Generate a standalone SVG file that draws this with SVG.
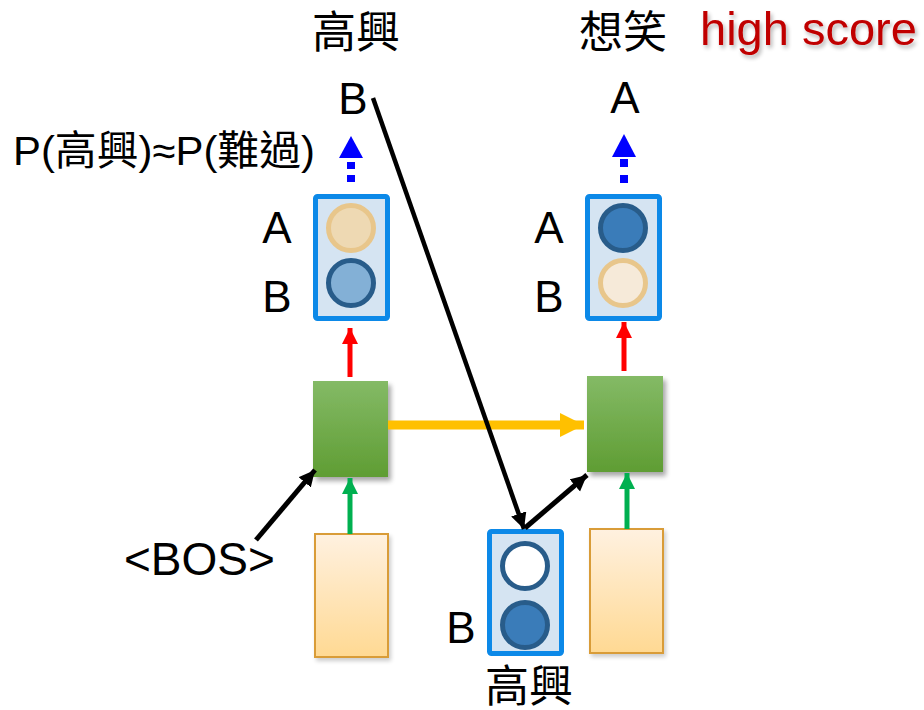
<svg xmlns="http://www.w3.org/2000/svg" width="924" height="710" viewBox="0 0 924 710">
<defs>
<style>
.t{font-family:"Liberation Sans","Noto Sans CJK TC",sans-serif;fill:#000;font-size:44px}
.ob{fill:#d5e4f2;stroke:#0c89e8;stroke-width:5}
.gb{fill:url(#gg);filter:url(#sh)}
.yb{fill:url(#yg);stroke:#d99c38;stroke-width:2;filter:url(#sh2)}
</style>
<linearGradient id="gg" x1="0" y1="0" x2="0" y2="1"><stop offset="0" stop-color="#84ba66"/><stop offset="1" stop-color="#5f9d33"/></linearGradient>
<linearGradient id="yg" x1="0" y1="0" x2="0" y2="1"><stop offset="0" stop-color="#fff1e0"/><stop offset="1" stop-color="#ffd993"/></linearGradient>
<filter id="sh" x="-20%" y="-20%" width="150%" height="150%"><feGaussianBlur in="SourceAlpha" stdDeviation="2.5"/><feOffset dx="3" dy="4" result="b"/><feComponentTransfer><feFuncA type="linear" slope="0.35"/></feComponentTransfer><feMerge><feMergeNode/><feMergeNode in="SourceGraphic"/></feMerge></filter>
<filter id="sh2" x="-20%" y="-20%" width="150%" height="150%"><feGaussianBlur in="SourceAlpha" stdDeviation="2"/><feOffset dx="2" dy="3"/><feComponentTransfer><feFuncA type="linear" slope="0.2"/></feComponentTransfer><feMerge><feMergeNode/><feMergeNode in="SourceGraphic"/></feMerge></filter>
<filter id="ts" x="-10%" y="-30%" width="130%" height="170%"><feGaussianBlur in="SourceAlpha" stdDeviation="2"/><feOffset dx="2" dy="3"/><feComponentTransfer><feFuncA type="linear" slope="0.3"/></feComponentTransfer><feMerge><feMergeNode/><feMergeNode in="SourceGraphic"/></feMerge></filter>
<marker id="mk" markerUnits="userSpaceOnUse" markerWidth="18" markerHeight="18" refX="16" refY="8" orient="auto"><path d="M0,0 L16,8 L0,16 z" fill="#000"/></marker>
<marker id="mr" markerUnits="userSpaceOnUse" markerWidth="18" markerHeight="18" refX="16" refY="8" orient="auto"><path d="M0,0 L16,8 L0,16 z" fill="#ff0000"/></marker>
<marker id="mg" markerUnits="userSpaceOnUse" markerWidth="18" markerHeight="18" refX="16" refY="8" orient="auto"><path d="M0,0 L16,8 L0,16 z" fill="#00b050"/></marker>
<marker id="my" markerUnits="userSpaceOnUse" markerWidth="26" markerHeight="26" refX="24" refY="12" orient="auto"><path d="M0,0 L24,12 L0,24 z" fill="#ffc000"/></marker>
</defs>
<rect width="924" height="710" fill="#fff"/>

<g id="labels">
<text class="t" x="356" y="48" text-anchor="middle">高興</text>
<text class="t" x="353" y="114" text-anchor="middle">B</text>
<text class="t" x="13" y="165" style="font-size:41px" textLength="302" lengthAdjust="spacingAndGlyphs">P(高興)≈P(難過)</text>
<text class="t" x="623" y="48" text-anchor="middle">想笑</text>
<text class="t" x="625" y="113" text-anchor="middle">A</text>
<text x="700" y="45" font-family="Liberation Sans, sans-serif" font-size="47" fill="#c00000" filter="url(#ts)">high score</text>
<text class="t" x="124" y="575" style="font-size:46px">&lt;BOS&gt;</text>
<text class="t" x="461" y="643" text-anchor="middle">B</text>
<text class="t" x="529" y="702" text-anchor="middle">高興</text>
</g>

<g id="out1">
<rect class="ob" x="315.5" y="196.5" width="72" height="122" rx="2"/>
<circle cx="351" cy="228" r="22.5" fill="#eed9b3" stroke="#e8c68b" stroke-width="5"/>
<circle cx="351" cy="283" r="22.5" fill="#83b0d6" stroke="#285c8a" stroke-width="5"/>
<text class="t" x="277" y="243" text-anchor="middle">A</text>
<text class="t" x="277" y="312" text-anchor="middle">B</text>
</g>

<g id="out2">
<rect class="ob" x="587.5" y="196.5" width="72" height="122" rx="2"/>
<circle cx="623" cy="228" r="22.5" fill="#3a7cb9" stroke="#285c8a" stroke-width="5"/>
<circle cx="623" cy="283" r="22.5" fill="#f6ead9" stroke="#e8c68b" stroke-width="5"/>
<text class="t" x="549" y="243" text-anchor="middle">A</text>
<text class="t" x="549" y="312" text-anchor="middle">B</text>
</g>

<g id="rnn1"><rect class="gb" x="313" y="381" width="75" height="96"/></g>
<g id="rnn2"><rect class="gb" x="587" y="376" width="76" height="96"/></g>
<g id="in1"><rect class="yb" x="315" y="534" width="73" height="123"/></g>
<g id="in2"><rect class="yb" x="590" y="529" width="73" height="124"/></g>

<g id="sample">
<rect class="ob" x="489.5" y="531.5" width="72" height="122" rx="2"/>
<circle cx="525" cy="566" r="22.5" fill="#fff" stroke="#285c8a" stroke-width="5"/>
<circle cx="525" cy="625" r="22.5" fill="#3a7cb9" stroke="#285c8a" stroke-width="5"/>
</g>

<g id="connectors">
<line x1="351" y1="182" x2="351" y2="158" stroke="#0000ff" stroke-width="8" stroke-dasharray="7,6"/>
<path d="M339,158 L351,136 L363,158 z" fill="#0000ff"/>
<line x1="624" y1="183" x2="624" y2="157" stroke="#0000ff" stroke-width="8" stroke-dasharray="8,8"/>
<path d="M612,157 L624,134 L636,157 z" fill="#0000ff"/>
<line x1="350" y1="377" x2="350" y2="328" stroke="#ff0000" stroke-width="5" marker-end="url(#mr)"/>
<line x1="624" y1="371" x2="624" y2="322" stroke="#ff0000" stroke-width="5" marker-end="url(#mr)"/>
<line x1="350" y1="534" x2="350" y2="478" stroke="#00b050" stroke-width="5" marker-end="url(#mg)"/>
<line x1="627" y1="529" x2="627" y2="473" stroke="#00b050" stroke-width="5" marker-end="url(#mg)"/>
<line x1="388" y1="425" x2="584" y2="425" stroke="#ffc000" stroke-width="9" marker-end="url(#my)"/>
<line x1="256" y1="540" x2="315" y2="470" stroke="#000" stroke-width="5" marker-end="url(#mk)"/>
<line x1="373" y1="98" x2="524" y2="529" stroke="#000" stroke-width="4.5" marker-end="url(#mk)"/>
<line x1="525" y1="528" x2="587" y2="475" stroke="#000" stroke-width="5" marker-end="url(#mk)"/>
</g>
</svg>
